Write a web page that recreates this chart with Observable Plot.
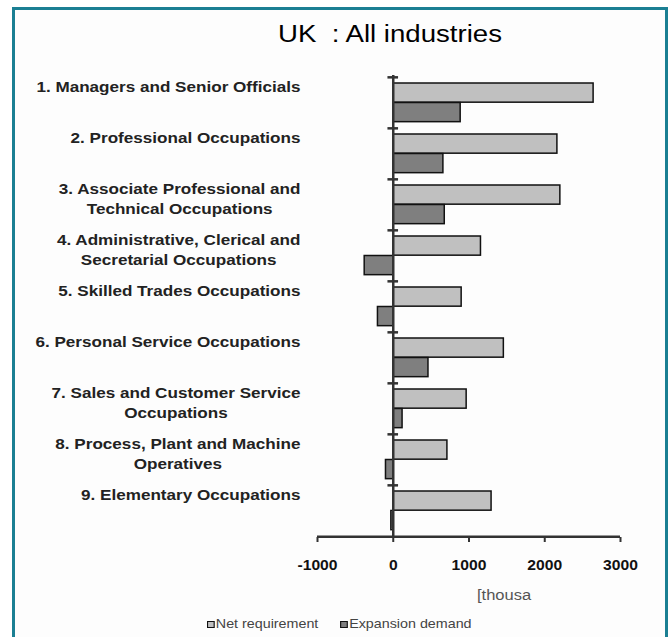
<!DOCTYPE html>
<html><head><meta charset="utf-8">
<script src="https://cdn.jsdelivr.net/npm/d3@7"></script>
<script src="https://cdn.jsdelivr.net/npm/@observablehq/plot@0.6"></script>
<style>
html,body{margin:0;padding:0;background:#fff;}
body{width:669px;height:637px;overflow:hidden;position:relative;font-family:"Liberation Sans",Arial,sans-serif;}
#frame{position:absolute;left:12px;top:7px;width:656px;height:650px;border:3px solid #1b7f93;box-sizing:border-box;background:#fdfdfd;}
#chart{position:absolute;left:0;top:0;}
#title{position:absolute;left:278px;top:21px;font-size:23px;color:#000;white-space:pre;transform:scaleX(1.2);transform-origin:0 0;}
#unit{position:absolute;left:477px;top:587px;font-size:14px;color:#555;transform:scaleX(1.18);transform-origin:0 0;}
#legend{position:absolute;left:207px;top:616px;font-size:13px;color:#444;white-space:pre;transform:scaleX(1.1);transform-origin:0 0;}
#legend .sw{display:inline-block;width:5px;height:5px;border:1.5px solid #111;margin-right:1px;vertical-align:0px;}
</style></head>
<body>
<div id="frame"></div>
<div id="chart"></div>
<div id="title">UK  : All industries</div>
<div id="unit">[thousa</div>
<div id="legend"></div>
<script>
const categories = [
  "1. Managers and Senior Officials",
  "2. Professional Occupations",
  "3. Associate Professional and\nTechnical Occupations",
  "4. Administrative, Clerical and\nSecretarial Occupations",
  "5. Skilled Trades Occupations",
  "6. Personal Service Occupations",
  "7. Sales and Customer Service\nOccupations",
  "8. Process, Plant and Machine\nOperatives",
  "9. Elementary Occupations"
];
const netRequirement = [2645, 2167, 2206, 1158, 903, 1460, 969, 715, 1298];
const expansionDemand = [890, 662, 680, -377, -202, 465, 123, -96, -25];
const seriesNames = ["Net requirement", "Expansion demand"];
const seriesColors = ["#c0c0c0", "#7f7f7f"];
const xTicks = [-1000, 0, 1000, 2000, 3000];

const W = 669, H = 637, mT = 75, mB = 100, mL = 317, mR = 49;
const step = (H - mT - mB) / categories.length;

const netData = categories.map((c, i) => ({cat: c, v: netRequirement[i]}));
const expData = categories.map((c, i) => ({cat: c, v: expansionDemand[i]}));

const plot = Plot.plot({
  width: W, height: H,
  marginTop: mT, marginBottom: mB, marginLeft: mL, marginRight: mR,
  style: {background: "transparent", fontFamily: "'Liberation Sans', Arial, sans-serif"},
  x: {domain: [-1000, 3000], axis: null},
  y: {domain: categories, padding: 0, axis: null},
  marks: [
    Plot.barX(netData, {x: "v", y: "cat", fill: seriesColors[0], stroke: "#111", strokeWidth: 1.5, insetTop: 6, insetBottom: step - 25.5}),
    Plot.barX(expData, {x: "v", y: "cat", fill: seriesColors[1], stroke: "#111", strokeWidth: 1.5, insetTop: 25.5, insetBottom: step - 45}),
    Plot.ruleX([0], {stroke: "#333", strokeWidth: 2.5}),
    Plot.ruleY(categories, {y: d => d, x1: -70, x2: 70, dy: -step / 2, stroke: "#333", strokeWidth: 2.5}),
    Plot.ruleY([categories[categories.length - 1]], {y: d => d, x1: -1000, x2: 3000, dy: step / 2, stroke: "#333", strokeWidth: 2.5}),
    Plot.axisX({ticks: xTicks, tickSize: 5, tickPadding: 18, tickFormat: d => String(d), stroke: "#333", strokeWidth: 2, fontSize: 14, fontWeight: "bold", fill: "#111", label: null}),
    Plot.text(categories, {y: d => d, text: d => d, frameAnchor: "left", dx: -17, dy: -step / 2, lineAnchor: "top", lineHeight: 1.333, textAnchor: "end", fontSize: 15, fontWeight: "bold", fill: "#222", className: "catlabel"})
  ]
});
document.getElementById("chart").appendChild(plot);

function stretch(t, s) {
  const tr = t.getAttribute("transform");
  if (tr) t.setAttribute("transform", tr + ` scale(${s},1)`);
}

// category labels: centre the lines of multi-line labels, keep right edge, stretch horizontally
plot.querySelectorAll("g.catlabel text").forEach(t => {
  const spans = t.querySelectorAll("tspan");
  if (spans.length > 1) {
    const w = Math.max(...Array.from(spans).map(s => s.getComputedTextLength()));
    t.setAttribute("text-anchor", "middle");
    spans.forEach(s => s.setAttribute("x", -w / 2));
  }
  stretch(t, 1.14);
});
plot.querySelectorAll("g[aria-label='x-axis tick label'] text").forEach(t => stretch(t, 1.12));

const legend = document.getElementById("legend");
seriesNames.forEach((n, i) => {
  const item = document.createElement("span");
  item.style.marginRight = i === 0 ? "20px" : "0";
  const sw = document.createElement("span");
  sw.className = "sw";
  sw.style.background = seriesColors[i];
  item.appendChild(sw);
  item.appendChild(document.createTextNode(n));
  legend.appendChild(item);
});
</script>
</body></html>
